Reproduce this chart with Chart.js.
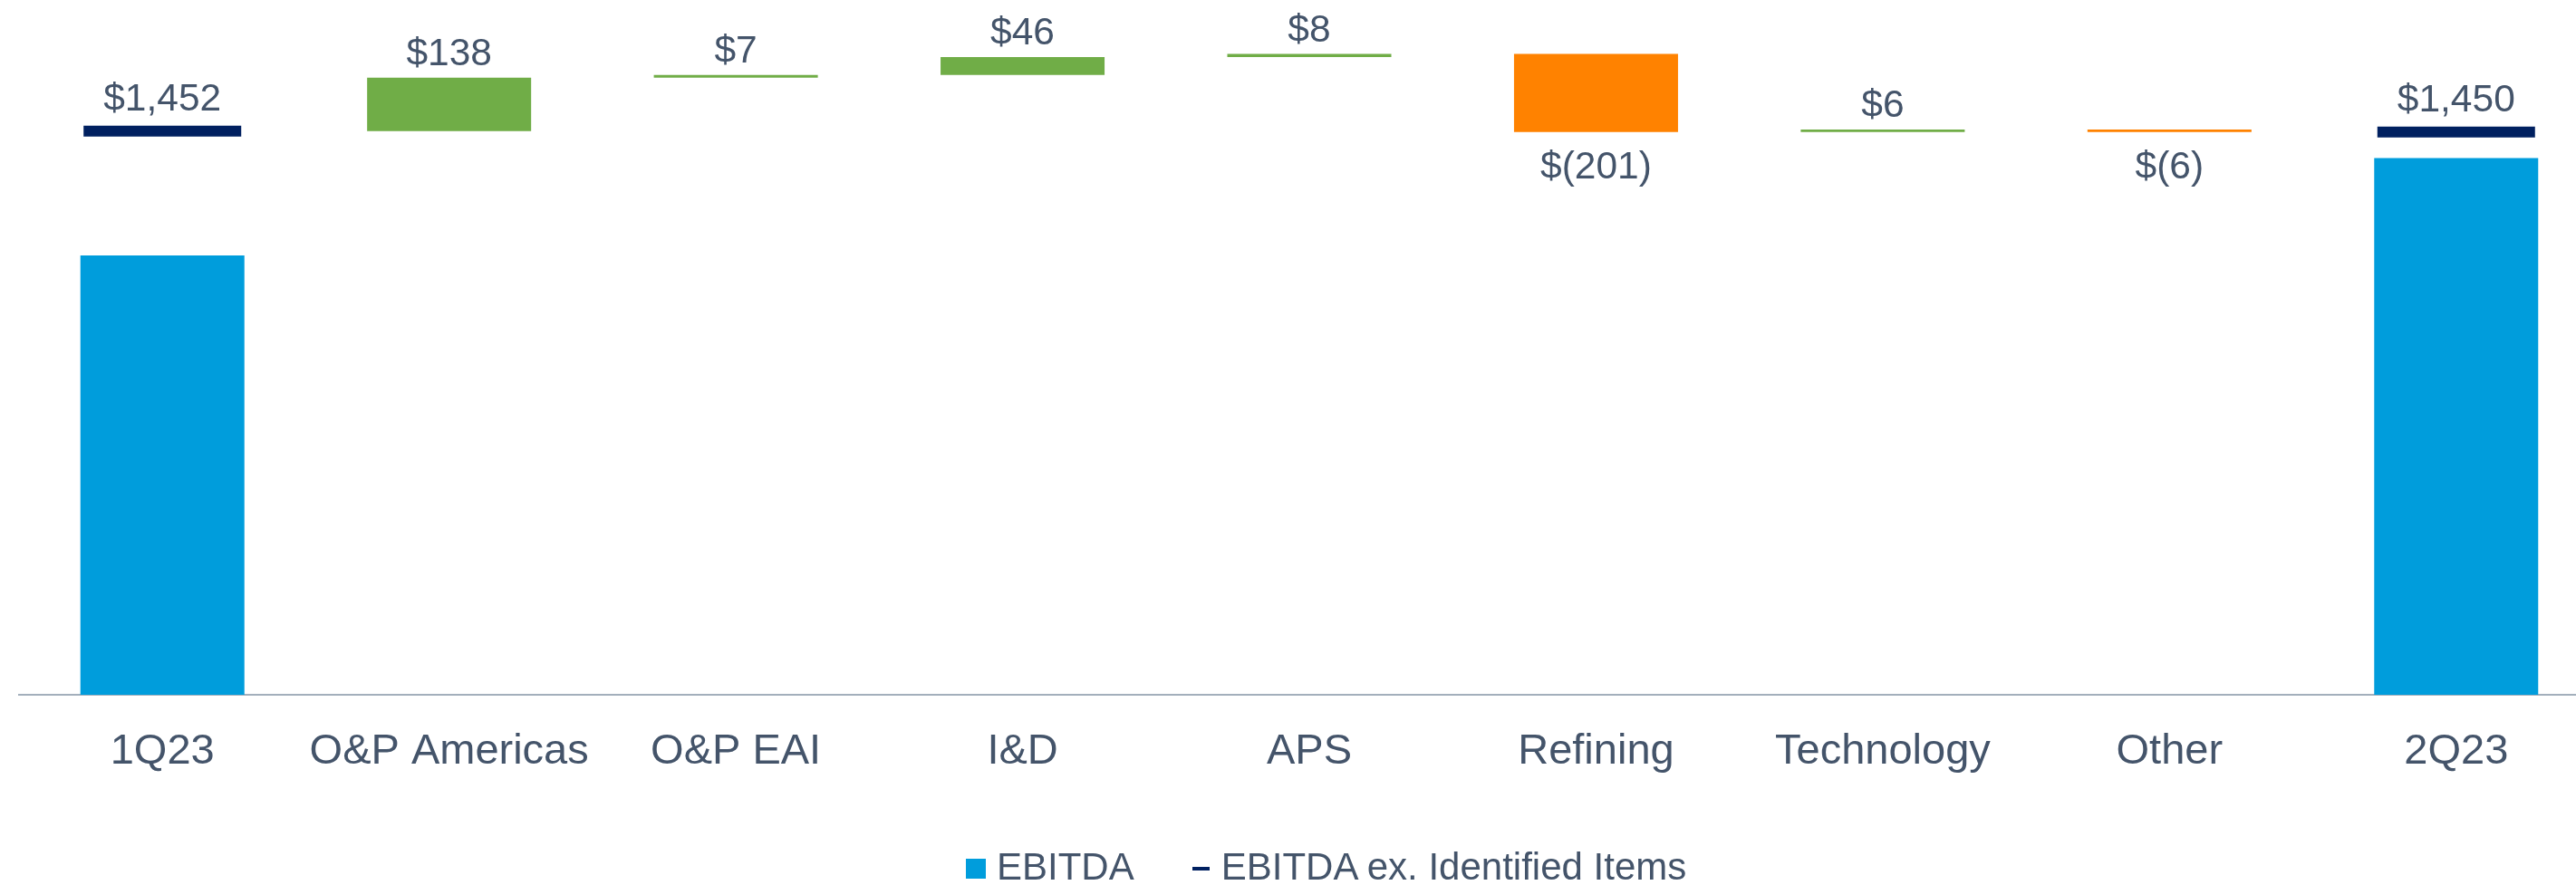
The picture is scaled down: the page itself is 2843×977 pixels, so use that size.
<!DOCTYPE html>
<html>
<head>
<meta charset="utf-8">
<script src="https://cdn.jsdelivr.net/npm/chart.js@4.4.0/dist/chart.umd.min.js"></script>
<style>
html,body{margin:0;padding:0;background:#ffffff;overflow:hidden;width:2843px;height:977px;}
#wrap{position:relative;width:2843px;height:977px;overflow:hidden;background:#ffffff;}
#c{position:absolute;left:0;top:0;display:block;}
#legend{position:absolute;left:1066px;top:936px;height:42px;display:flex;align-items:center;
  font-family:"Liberation Sans",Arial,sans-serif;font-size:42px;line-height:42px;color:#44546A;white-space:nowrap;}
#legend .item{display:flex;align-items:center;}
#legend .sw{display:inline-block;position:relative;top:2px;}
</style>
</head>
<body>
<div id="wrap">
  <canvas id="c" width="2869" height="977"></canvas>
  <div id="legend"></div>
</div>
<script>
// ---- data ----
const categories = ['1Q23', 'O&P Americas', 'O&P EAI', 'I&D', 'APS', 'Refining', 'Technology', 'Other', '2Q23'];
const ebitda = [1132, null, null, null, null, null, null, null, 1383];
const ebitdaExItems = [1452, null, null, null, null, null, null, null, 1450];
const changes = [null, 138, 7, 46, 8, -201, 6, -6, null];
const seriesNames = ['EBITDA', 'EBITDA ex. Identified Items'];
const Y_MIN = 0;
const Y_MAX = 1790;

// ---- styles ----
const BLUE = '#009DDC';
const NAVY = '#002060';
const GREEN = '#70AD47';
const ORANGE = '#FF8200';
const TEXT = '#44546A';
const AXIS = '#A3AFBC';
const FONT = '"Liberation Sans", Arial, sans-serif';

// waterfall floating ranges built from the changes
let running = ebitdaExItems[0];
const waterfall = changes.map(c => {
  if (c === null) return null;
  const r = [running, running + c];
  running += c;
  return r;
});

const fmt = v => v < 0 ? '$(' + Math.abs(v).toLocaleString('en-US') + ')' : '$' + v.toLocaleString('en-US');

const labelPlugin = {
  id: 'valueLabels',
  afterDatasetsDraw(chart) {
    const ctx = chart.ctx;
    ctx.save();
    ctx.font = '42.5px ' + FONT;
    ctx.fillStyle = TEXT;
    ctx.textAlign = 'center';
    ctx.textBaseline = 'alphabetic';
    const wf = chart.getDatasetMeta(1).data;
    changes.forEach((c, i) => {
      if (c === null) return;
      const el = wf[i];
      const top = Math.min(el.y, el.base);
      const bottom = Math.max(el.y, el.base);
      if (c >= 0) ctx.fillText(fmt(c), el.x, top - 14);
      else ctx.fillText(fmt(c), el.x, bottom + 51);
    });
    const mk = chart.getDatasetMeta(2).data;
    ebitdaExItems.forEach((v, i) => {
      if (v === null) return;
      const p = mk[i];
      ctx.fillText(fmt(v), p.x, p.y - 6 - 17);
    });
    ctx.restore();
  }
};

const chart = new Chart(document.getElementById('c'), {
  type: 'bar',
  data: {
    labels: categories,
    datasets: [
      {
        label: seriesNames[0],
        data: ebitda,
        backgroundColor: BLUE,
        borderWidth: 0
      },
      {
        label: 'Change',
        data: waterfall,
        backgroundColor: ctx => {
          const c = changes[ctx.dataIndex];
          return c !== null && c < 0 ? ORANGE : GREEN;
        },
        borderWidth: 0
      },
      {
        type: 'line',
        label: seriesNames[1],
        data: ebitdaExItems,
        showLine: false,
        borderColor: NAVY,
        backgroundColor: NAVY,
        pointStyle: 'line',
        pointRadius: 87,
        pointHoverRadius: 87,
        pointBorderWidth: 12,
        pointHoverBorderWidth: 12,
        pointBorderColor: NAVY,
        clip: false
      }
    ]
  },
  options: {
    responsive: false,
    animation: false,
    events: [],
    devicePixelRatio: 1,
    layout: { autoPadding: false, padding: { left: 21, right: 0, top: 0, bottom: 0 } },
    datasets: {
      bar: { grouped: false, categoryPercentage: 1.0, barPercentage: 0.572 }
    },
    plugins: {
      legend: { display: false },
      tooltip: { enabled: false },
      title: { display: false }
    },
    scales: {
      x: {
        grid: { display: false },
        border: { display: true, color: AXIS, width: 2 },
        ticks: {
          color: TEXT,
          font: { family: FONT, size: 47 },
          padding: 27,
          maxRotation: 0,
          autoSkip: false
        },
        afterFit: s => { s.height = 210; }
      },
      y: {
        display: false,
        min: Y_MIN,
        max: Y_MAX
      }
    }
  },
  plugins: [labelPlugin]
});

// HTML legend generated from the chart datasets
const legend = document.getElementById('legend');
const legendDefs = [
  { text: chart.data.datasets[0].label, color: chart.data.datasets[0].backgroundColor, w: 22, h: 22, gap: 12 },
  { text: chart.data.datasets[2].label, color: chart.data.datasets[2].borderColor, w: 19, h: 4, gap: 13 }
];
legendDefs.forEach((d, i) => {
  const item = document.createElement('span');
  item.className = 'item';
  if (i > 0) item.style.marginLeft = '64px';
  const sw = document.createElement('span');
  sw.className = 'sw';
  sw.style.width = d.w + 'px';
  sw.style.height = d.h + 'px';
  sw.style.background = d.color;
  sw.style.marginRight = d.gap + 'px';
  const tx = document.createElement('span');
  tx.textContent = d.text;
  item.appendChild(sw);
  item.appendChild(tx);
  legend.appendChild(item);
});
</script>
</body>
</html>
